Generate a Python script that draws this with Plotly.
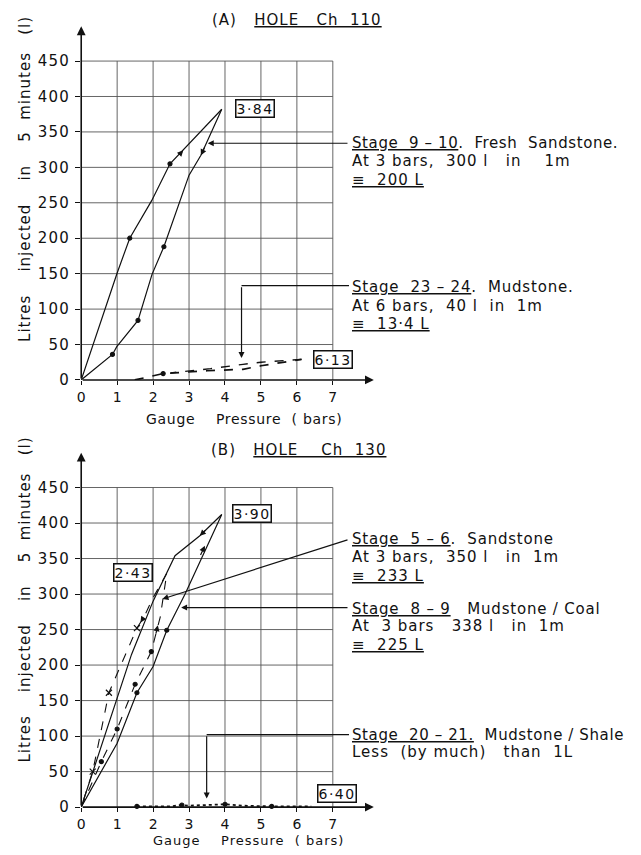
import plotly.graph_objects as go

# ---------------- data ----------------
x_ticks = [0, 1, 2, 3, 4, 5, 6, 7]
y_ticks = [0, 50, 100, 150, 200, 250, 300, 350, 400, 450]

# (A) Hole Ch 110
a1_up_x = [0, 1.0, 1.35, 1.96, 2.47, 3.91]
a1_up_y = [0, 151, 200, 253, 305, 382]
a1_dn_x = [3.91, 3.33, 3.0, 2.30, 1.97, 1.58, 0.99, 0.87, 0]
a1_dn_y = [382, 317, 289, 188, 149, 84, 47, 36, 0]
a2_up_x = [1.49, 2.28, 3.5, 4.5, 5.0, 6.13]
a2_up_y = [0, 9, 13, 15, 20, 29]
a2_dn_x = [6.13, 5.0, 4.5, 3.6, 2.5]
a2_dn_y = [29, 25, 22, 16, 10]

# (B) Hole Ch 130
b1_up_x = [0, 0.5, 1.0, 1.55, 2.0, 2.38, 2.89, 3.91]
b1_up_y = [0, 45, 90, 161, 198, 249, 300, 412]
b1_dn_x = [3.91, 3.3, 2.61, 2.3, 2.0, 1.4, 0.98, 0.5, 0]
b1_dn_y = [412, 382, 354, 322, 290, 215, 151, 75, 0]
b2_up_x = [0, 0.56, 1.0, 1.5, 1.95, 2.2, 2.38]
b2_up_y = [0, 64, 110, 173, 219, 268, 329]
b2_dn_x = [2.38, 2.0, 1.75, 1.55, 0.77, 0.32, 0]
b2_dn_y = [329, 295, 268, 252, 161, 50, 0]
b3_x = [1.55, 2.5, 2.8, 3.0, 3.5, 4.0, 4.5, 5.3, 6.4]
b3_y = [1, 1, 3, 2, 3, 4, 2, 1, 1]

FONT = "DejaVu Sans"
INK = "#111111"


def spaced(t, ls=1.0):
    return '<span style="letter-spacing:%spx">%s</span>' % (ls, t)


fig = go.Figure()


def line(x, y, xa, ya, dash="solid", width=1.2):
    fig.add_trace(go.Scatter(x=x, y=y, xaxis=xa, yaxis=ya, mode="lines",
                             line=dict(color=INK, width=width, dash=dash),
                             cliponaxis=False, showlegend=False, hoverinfo="skip"))


def dots(x, y, xa, ya, symbol="circle", size=4):
    fig.add_trace(go.Scatter(x=x, y=y, xaxis=xa, yaxis=ya, mode="markers",
                             marker=dict(color=INK, size=size, symbol=symbol,
                                         line=dict(color=INK, width=1.2)),
                             cliponaxis=False, showlegend=False, hoverinfo="skip"))


# A curves
line(a1_up_x, a1_up_y, "x", "y")
line(a1_dn_x, a1_dn_y, "x", "y")
line(a2_up_x, a2_up_y, "x", "y", dash="dash", width=1.7)
line(a2_dn_x, a2_dn_y, "x", "y", dash="dash", width=1.4)
dots([a1_up_x[2], a1_up_x[4], a1_dn_x[3], a1_dn_x[5], a1_dn_x[7]],
     [a1_up_y[2], a1_up_y[4], a1_dn_y[3], a1_dn_y[5], a1_dn_y[7]], "x", "y")
dots([a2_up_x[1]], [a2_up_y[1]], "x", "y")

# B curves
line(b1_up_x, b1_up_y, "x2", "y2")
line(b1_dn_x, b1_dn_y, "x2", "y2")
line(b2_up_x, b2_up_y, "x2", "y2", dash="dash", width=1.1)
line(b2_dn_x, b2_dn_y, "x2", "y2", dash="dash", width=1.1)
line(b3_x, b3_y, "x2", "y2", dash="dot", width=1.8)
dots([b2_up_x[1], b2_up_x[2], b2_up_x[3], b2_up_x[4]],
     [b2_up_y[1], b2_up_y[2], b2_up_y[3], b2_up_y[4]], "x2", "y2")
dots([b1_up_x[3], b1_up_x[5]], [b1_up_y[3], b1_up_y[5]], "x2", "y2")
dots([b2_dn_x[3], b2_dn_x[4], b2_dn_x[5]], [b2_dn_y[3], b2_dn_y[4], b2_dn_y[5]],
     "x2", "y2", symbol="x-thin", size=6)
dots([b3_x[0], b3_x[2], b3_x[5], b3_x[7]], [b3_y[0], b3_y[2], b3_y[5], b3_y[7]], "x2", "y2")

# ---------------- layout ----------------
W, H = 641, 855
X0, XR = 0, 8.4
YR = 505


def px(v):
    return v / W


def py(v):
    return 1 - v / H


grid_style = dict(color="#555555", width=0.9)
shapes = []
for xa, ya in (("x", "y"), ("x2", "y2")):
    for yv in y_ticks[1:]:
        shapes.append(dict(type="line", xref=xa, yref=ya, x0=0, x1=x_ticks[-1], y0=yv, y1=yv,
                           line=grid_style, layer="below"))
    for xv in x_ticks[1:]:
        shapes.append(dict(type="line", xref=xa, yref=ya, x0=xv, x1=xv, y0=0, y1=y_ticks[-1],
                           line=grid_style, layer="below"))

ann = []


def arrow(xa, ya, tail, head, width=1.2, size=1.0, head_style=2):
    ann.append(dict(xref=xa, yref=ya, axref=xa, ayref=ya, x=head[0], y=head[1],
                    ax=tail[0], ay=tail[1], text="", showarrow=True, arrowhead=head_style,
                    arrowwidth=width, arrowsize=size, arrowcolor=INK))


def box(xa, ya, x, y, t):
    ann.append(dict(xref=xa, yref=ya, x=x, y=y, text=spaced(t, 1.5), showarrow=False,
                    font=dict(family=FONT, size=14, color=INK),
                    bordercolor=INK, borderwidth=1.5, borderpad=0, bgcolor="white"))


def ptext(x, y, t, size=15, anchor="left", angle=0, ls=1.0):
    ann.append(dict(xref="paper", yref="paper", x=px(x), y=py(y), text=spaced(t, ls),
                    showarrow=False, xanchor=anchor, yanchor="middle", textangle=angle,
                    font=dict(family=FONT, size=size, color=INK)))


# axis arrows
for xa, ya in (("x", "y"), ("x2", "y2")):
    arrow(xa, ya, (0, 0), (8.14, 0), width=1.6, size=1.1)
    arrow(xa, ya, (0, 0), (0, 499), width=1.6, size=1.1)

# curve arrows
arrow("x", "y", (2.69, 316), (2.84, 324))
arrow("x", "y", (3.45, 330), (3.33, 317))
arrow("x2", "y2", (3.3, 353), (3.44, 368))
arrow("x2", "y2", (3.5, 392), (3.3, 382))
arrow("x2", "y2", (2.07, 242), (2.13, 256))
arrow("x2", "y2", (1.75, 268), (1.65, 260))

# boxes
box("x", "y", 4.83, 383, "3·84")
box("x", "y", 7.0, 29, "6·13")
box("x2", "y2", 4.75, 413, "3·90")
box("x2", "y2", 1.45, 330, "2·43")
box("x2", "y2", 7.12, 19, "6·40")

# leaders
LX = 7.45
arrow("x", "y", (LX, 334), (3.52, 334))
shapes.append(dict(type="line", xref="x", yref="y", x0=LX, x1=4.46, y0=133, y1=133,
                   line=dict(color=INK, width=1.2)))
arrow("x", "y", (4.46, 133), (4.46, 31))
arrow("x2", "y2", (LX, 377), (2.26, 293))
arrow("x2", "y2", (LX, 281), (2.78, 281))
shapes.append(dict(type="line", xref="x2", yref="y2", x0=LX, x1=3.49, y0=102, y1=102,
                   line=dict(color=INK, width=1.2)))
arrow("x2", "y2", (3.49, 102), (3.49, 12))

# titles
ptext(295, 20, "(A)   <u>HOLE   Ch  110</u>", anchor="center")
ptext(296, 455, "(B)   <u>HOLE    Ch  130</u>", anchor="center")
ptext(21, 181, "Litres    injected    in    5  minutes   (l)", angle=-90, anchor="center")
ptext(21, 606, "Litres    injected    in    5  minutes   (l)", angle=-90, anchor="center")
ptext(242, 423, "Gauge    Pressure  ( bars)", anchor="center", size=14, ls=0.7)
ptext(246, 849, "Gauge    Pressure  ( bars)", anchor="center", size=13, ls=1.0)

# notes
TX = 348
ptext(TX, 145, "<u>Stage  9 – 10</u>.  Fresh  Sandstone.", ls=0.6)
ptext(TX, 163, "At 3 bars,  300 l   in    1m")
ptext(TX, 182, "<u>≡  200 L</u>")
ptext(TX, 290, "<u>Stage  23 – 24</u>.  Mudstone.", ls=0.8)
ptext(TX, 309, "At 6 bars,  40 l  in  1m")
ptext(TX, 327, "<u>≡  13·4 L</u>")
ptext(TX, 545, "<u>Stage  5 – 6</u>.  Sandstone", ls=0.8)
ptext(TX, 563, "At 3 bars,  350 l   in  1m")
ptext(TX, 582, "<u>≡  233 L</u>")
ptext(TX, 615, "<u>Stage  8 – 9</u>   Mudstone / Coal", ls=0.8)
ptext(TX, 633, "At  3 bars   338 l   in  1m")
ptext(TX, 652, "<u>≡  225 L</u>")
ptext(TX, 743, "<u>Stage  20 – 21.</u>  Mudstone / Shale", ls=0.6)
ptext(TX, 760, "Less  (by much)   than  1L")

xdom = [px(77.7), px(77.7 + XR * 36.17)]
ax_common = dict(range=[X0, XR], showgrid=False, zeroline=False, showline=False,
                 tickvals=x_ticks, ticktext=[str(v) for v in x_ticks],
                 ticks="outside", ticklen=4, tickwidth=1.2, tickcolor=INK,
                 tickfont=dict(family=FONT, size=14, color=INK), ticklabelstandoff=0)
ay_common = dict(range=[0, YR], showgrid=False, zeroline=False, showline=False,
                 tickvals=y_ticks, ticktext=[spaced(str(v), 1.3) for v in y_ticks],
                 ticks="outside", ticklen=5, tickwidth=1.2, tickcolor=INK,
                 tickfont=dict(family=FONT, size=15, color=INK), ticklabelstandoff=2)

fig.update_layout(
    width=W, height=H, margin=dict(l=0, r=0, t=0, b=0),
    paper_bgcolor="white", plot_bgcolor="white", showlegend=False,
    xaxis=dict(domain=xdom, anchor="y", **ax_common),
    yaxis=dict(domain=[py(384), py(384 - YR * 0.7162)], anchor="x", **ay_common),
    xaxis2=dict(domain=xdom, anchor="y2", **ax_common),
    yaxis2=dict(domain=[py(815.7), py(815.7 - YR * 0.7178)], anchor="x2", **ay_common),
    shapes=shapes, annotations=ann,
)

fig.write_html("out.html", config={"displayModeBar": False},
               post_script="document.body.style.margin='0';")
